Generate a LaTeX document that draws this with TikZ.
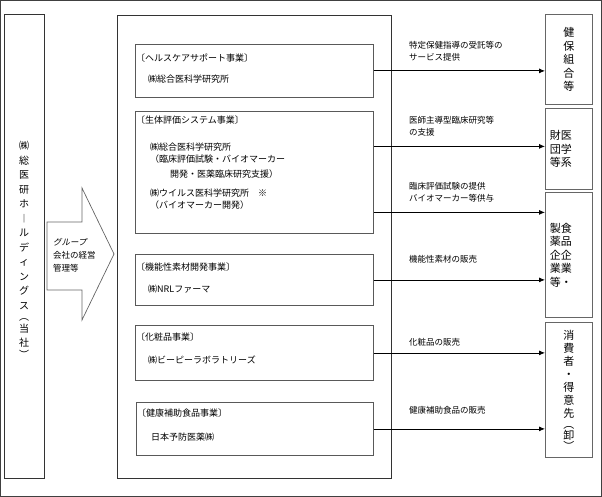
\documentclass[tikz,border=0pt]{standalone}
\usepackage{fontspec}
\setmainfont{Noto Sans CJK JP}
\newfontfamily\slantjp[FakeSlant=0.2]{Noto Sans CJK JP}
\usetikzlibrary{arrows.meta}

\begin{document}
\begin{tikzpicture}[x=1pt, y=-1pt,
	frame/.style={draw=black!80, line width=1.3pt, anchor=north west, inner sep=0pt},
	unit/.style={draw=black!65, line width=0.8pt, anchor=north west, inner sep=0pt},
	client/.style={draw=black!60, line width=0.8pt, anchor=north west, inner sep=0pt},
	txt/.style={anchor=west, inner sep=0pt, font=\fontsize{9}{11}\selectfont},
	flow/.style={anchor=west, inner sep=0pt, align=left, font=\fontsize{8.5}{12}\selectfont},
	vtext/.style={align=center, inner sep=0pt, font=\fontsize{11}{13.5}\selectfont},
	link/.style={draw=black, line width=0.8pt, -{Latex[length=6pt,width=5pt]}}]
					% Рамка рисунка
					\useasboundingbox (0,0) rectangle (602,497);
					\draw[black!75, line width=0.8pt] (0.5,0.5) rectangle (601.5,496.5);
					
					% Холдинг и группа
					\node[frame, minimum width=40pt, minimum height=464pt] (holding) at (4,14) {};
					\node[frame, minimum width=274pt, minimum height=463pt] (group) at (117,15) {};
					\node[vtext, font=\fontsize{10}{14.5}\selectfont] (holdingText) at (24,250)
						{㈱\\総\\医\\研\\ホ\\︱\\ル\\デ\\ィ\\ン\\グ\\ス\\[-3pt]︵\\[-3pt]当\\社\\[-3pt]︶};
					
					% Широкая стрелка
					\draw[black!60, line width=0.7pt, fill=white] (47,222) -- (82,222) -- (82,188) -- (114,254)
						-- (82,320) -- (82,290) -- (47,290) -- cycle;
					\node[flow, font=\fontsize{8.5}{13}\selectfont] (manage) at (53,255)
						{{\slantjp グループ}\\会社の経営\\管理等};
					
					% Сегменты
					\node[unit, minimum width=238pt, minimum height=53pt] (hc) at (135,44) {};
					\node[unit, minimum width=238pt, minimum height=122pt] (bio) at (135,111) {};
					\node[unit, minimum width=238pt, minimum height=51pt] (mat) at (135,254) {};
					\node[unit, minimum width=238pt, minimum height=55pt] (cos) at (135,325) {};
					\node[unit, minimum width=237pt, minimum height=53pt] (food) at (136,402) {};
					
					% Подписи сегментов
					\node[txt] (hcHead) at (136,58) {〔ヘルスケアサポート事業〕};
					\node[txt] (hcName) at (148,79) {㈱総合医科学研究所};
					\node[txt] (bioHead) at (136,120) {〔生体評価システム事業〕};
					\node[txt] (bioName) at (150,147) {㈱総合医科学研究所};
					\node[txt] (bioNote) at (150,159) {（臨床評価試験・バイオマーカー};
					\node[txt] (bioNoteB) at (170,174) {開発・医薬臨床研究支援）};
					\node[txt] (virName) at (150,193) {㈱ウイルス医科学研究所\quad ※};
					\node[txt] (virNote) at (150,205) {（バイオマーカー開発）};
					\node[txt] (matHead) at (136,267) {〔機能性素材開発事業〕};
					\node[txt] (matName) at (148,289) {㈱NRLファーマ};
					\node[txt] (cosHead) at (136,337) {〔化粧品事業〕};
					\node[txt] (cosName) at (148,360) {㈱ビーピーラボラトリーズ};
					\node[txt] (foodHead) at (137,413) {〔健康補助食品事業〕};
					\node[txt] (foodName) at (151,437) {日本予防医薬㈱};
					
					% Клиенты
					\node[client, minimum width=47pt, minimum height=90pt] (kenpo) at (545,14) {};
					\node[client, minimum width=47pt, minimum height=81pt] (zaidan) at (545,108) {};
					\node[client, minimum width=47pt, minimum height=125pt] (kigyo) at (545,192) {};
					\node[client, minimum width=47pt, minimum height=135pt] (shohi) at (545,322) {};
					\node[vtext] (kenpoText) at (kenpo) {健\\保\\組\\合\\等};
					\node[vtext, xshift=-8pt] (zaidanText) at (zaidan) {財医\\団学\\等系};
					\node[vtext, xshift=-8pt] (kigyoText) at (kigyo) {製食\\薬品\\企企\\業業\\等・};
					\node[vtext, font=\fontsize{11}{13}\selectfont] (shohiText) at (shohi)
						{消\\費\\者\\・\\得\\意\\先\\[-2pt]︵\\[-2pt]卸\\[-2pt]︶};
					
					% Стрелки
					\coordinate (bioA) at ([yshift=26pt]bio.east);
					\coordinate (bioB) at ([yshift=-40pt]bio.east);
					\draw[link] (hc.east) -- (hc.east -| kenpo.west);
					\draw[link] (bioA) -- (bioA -| zaidan.west);
					\draw[link] (bioB) -- (bioB -| kigyo.west);
					\draw[link] (mat.east) -- (mat.east -| kigyo.west);
					\draw[link] (cos.east) -- (cos.east -| shohi.west);
					\draw[link] (food.east) -- (food.east -| shohi.west);
					
					% Подписи стрелок
					\node[flow] (flowA) at (409,51) {特定保健指導の受託等の\\サービス提供};
					\node[flow] (flowB) at (409,126) {医師主導型臨床研究等\\の支援};
					\node[flow] (flowC) at (409,192) {臨床評価試験の提供\\バイオマーカー等供与};
					\node[flow] (flowD) at (409,259) {機能性素材の販売};
					\node[flow] (flowE) at (409,342) {化粧品の販売};
					\node[flow] (flowF) at (409,410) {健康補助食品の販売};
				\end{tikzpicture}
\end{document}
